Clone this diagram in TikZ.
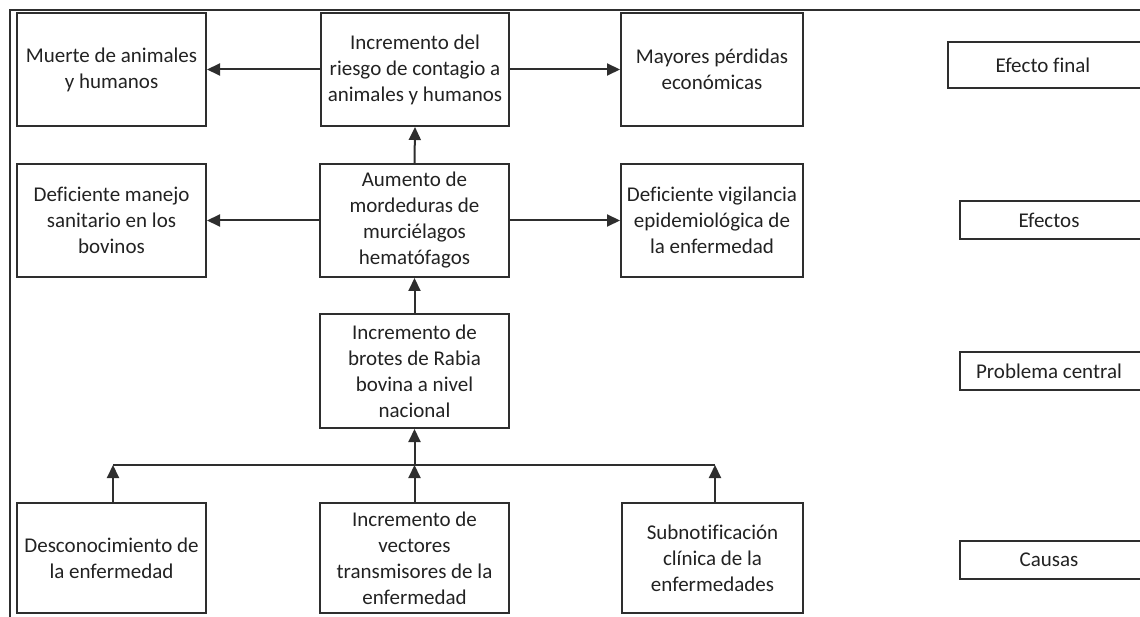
\documentclass[tikz,border=0pt]{standalone}
\usepackage{fontspec}
\setmainfont{Carlito}[Ligatures=NoCommon]
\usetikzlibrary{arrows.meta}
\definecolor{ln}{HTML}{2E2E2E}
\definecolor{tx}{HTML}{222222}
\tikzset{
  box/.style={draw=ln, line width=2pt, align=center, text=tx, inner sep=2pt,
    font=\fontsize{21}{26}\selectfont, minimum width=189pt, minimum height=113pt},
  lab/.style={draw=ln, line width=2pt, align=center, text=tx, inner sep=2pt,
    font=\fontsize{21}{26}\selectfont, minimum width=190pt, minimum height=38pt},
  arr/.style={draw=ln, line width=2pt, -{Triangle[length=13pt,width=12pt]}},
  plain/.style={draw=ln, line width=2pt}
}
\begin{document}
\begin{tikzpicture}[x=1pt,y=-1pt]
\useasboundingbox (0,0) rectangle (1140,617);
% frame
\coordinate (fbl) at (10,618);
\coordinate (ftl) at (10,10);
\coordinate (ftr) at (1141,10);
\draw[plain] (fbl) -- (ftl) -- (ftr);
% top row
\node[box] (muerte) at (111.5,69.5) {Muerte de animales\\y humanos};
\node[box, minimum width=188pt] (riesgo) at (415,69.5) {Incremento del\\riesgo de contagio a\\animales y humanos};
\node[box, minimum width=182pt] (mayores) at (712,69.5) {Mayores pérdidas\\económicas};
% second row
\node[box] (manejo) at (111.5,220.5) {Deficiente manejo\\sanitario en los\\bovinos};
\node[box] (aumento) at (414.5,220.5) {Aumento de\\mordeduras de\\murciélagos\\hematófagos};
\node[box, minimum width=182pt] (vigil) at (712,220.5) {Deficiente vigilancia\\epidemiológica de\\la enfermedad};
% central
\node[box, minimum height=114pt] (brotes) at (414.5,371) {Incremento de\\brotes de Rabia\\bovina a nivel\\nacional};
% causes
\node[box, minimum height=110pt] (desc) at (111.5,558) {Desconocimiento de\\la enfermedad};
\node[box, minimum height=110pt] (vect) at (414.5,558) {Incremento de\\vectores\\transmisores de la\\enfermedad};
\node[box, minimum width=181pt, minimum height=110pt] (subn) at (712.5,558) {Subnotificación\\clínica de la\\enfermedades};
% level labels
\node[lab, minimum width=202pt, minimum height=46pt] (lfinal) at (1049,65) {\hspace*{-12pt}Efecto final};
\node[lab] (lefec) at (1055,220) {\hspace*{-12pt}Efectos};
\node[lab] (lprob) at (1055,371) {\hspace*{-12pt}Problema central};
\node[lab] (lcaus) at (1055,560) {\hspace*{-12pt}Causas};
% connectors
\draw[arr] (riesgo.west) -- (muerte.east);
\draw[arr] (riesgo.east) -- (mayores.west);
\draw[arr] (aumento.north) -- (riesgo.south);
\draw[arr] (aumento.west) -- (manejo.east);
\draw[arr] (aumento.east) -- (vigil.west);
\draw[arr] (brotes.north) -- (aumento.south);
% bus
\coordinate (busL) at (113,465);
\coordinate (busM) at (414.5,465);
\coordinate (busR) at (715,465);
\draw[plain] (busL) -- (busR);
\draw[arr] (desc.north -| busL) -- (busL);
\draw[arr] (vect.north) -- (busM);
\draw[arr] (subn.north -| busR) -- (busR);
\draw[arr] (busM) -- (brotes.south);
\end{tikzpicture}
\end{document}
